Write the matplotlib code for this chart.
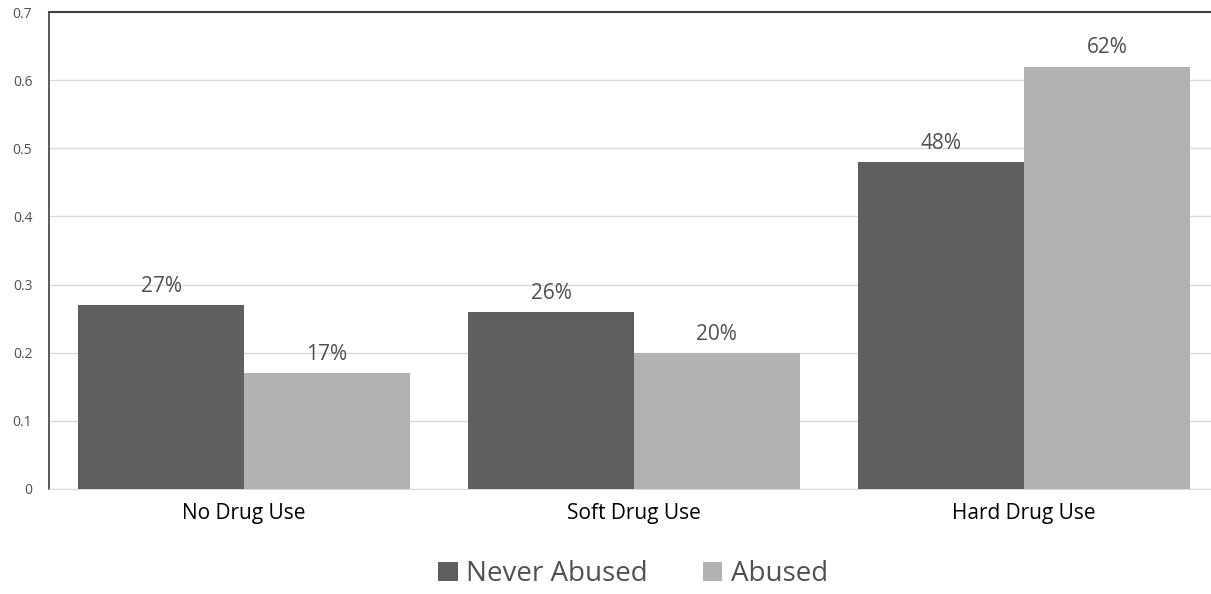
import numpy as np
import matplotlib.pyplot as plt

categories = ['No Drug Use', 'Soft Drug Use', 'Hard Drug Use']
never_abused = [0.27, 0.26, 0.48]
abused = [0.17, 0.20, 0.62]
never_labels = ['27%', '26%', '48%']
abused_labels = ['17%', '20%', '62%']

plt.rcParams['font.family'] = ['Open Sans', 'DejaVu Sans']
text_color = '#505050'

fig = plt.figure(figsize=(12.11, 5.94), dpi=100)
ax = fig.add_axes([49 / 1211, 105 / 594, 1170 / 1211, 477 / 594])

x = np.arange(len(categories))
w = 0.425
b1 = ax.bar(x - w / 2, never_abused, w, color='#5f5f5f', label='Never Abused', zorder=3)
b2 = ax.bar(x + w / 2, abused, w, color='#b2b2b2', label='Abused', zorder=3)

for bars, labels in ((b1, never_labels), (b2, abused_labels)):
    for bar, lab in zip(bars, labels):
        ax.text(bar.get_x() + bar.get_width() / 2, bar.get_height() + 0.012, lab,
                ha='center', va='bottom', fontsize=15, color=text_color)

ax.set_xlim(-0.5, 2.5)
ax.set_ylim(0, 0.7)
ax.set_yticks(np.arange(0, 0.71, 0.1))
ax.set_yticklabels(['0', '0.1', '0.2', '0.3', '0.4', '0.5', '0.6', '0.7'])
ax.set_xticks(x)
ax.set_xticklabels(categories, fontsize=15, color='black')
ax.tick_params(axis='y', length=0, labelsize=10, labelcolor=text_color, pad=12)
ax.tick_params(axis='x', length=0, pad=10)
ax.yaxis.grid(True, color='#d9d9d9', linewidth=1, zorder=0)

ax.spines['right'].set_visible(False)
ax.spines['top'].set_color('#404040')
ax.spines['top'].set_linewidth(1.5)
ax.spines['left'].set_color('#404040')
ax.spines['left'].set_linewidth(1.2)
ax.spines['bottom'].set_color('#d9d9d9')

fig.legend(loc='center', bbox_to_anchor=(633 / 1211, 1 - 574 / 594), ncol=2, frameon=False,
           fontsize=20, handlelength=0.7, handleheight=0.7, handletextpad=0.3,
           columnspacing=2.0, labelcolor=text_color)

fig.savefig('out.png', dpi=100)
